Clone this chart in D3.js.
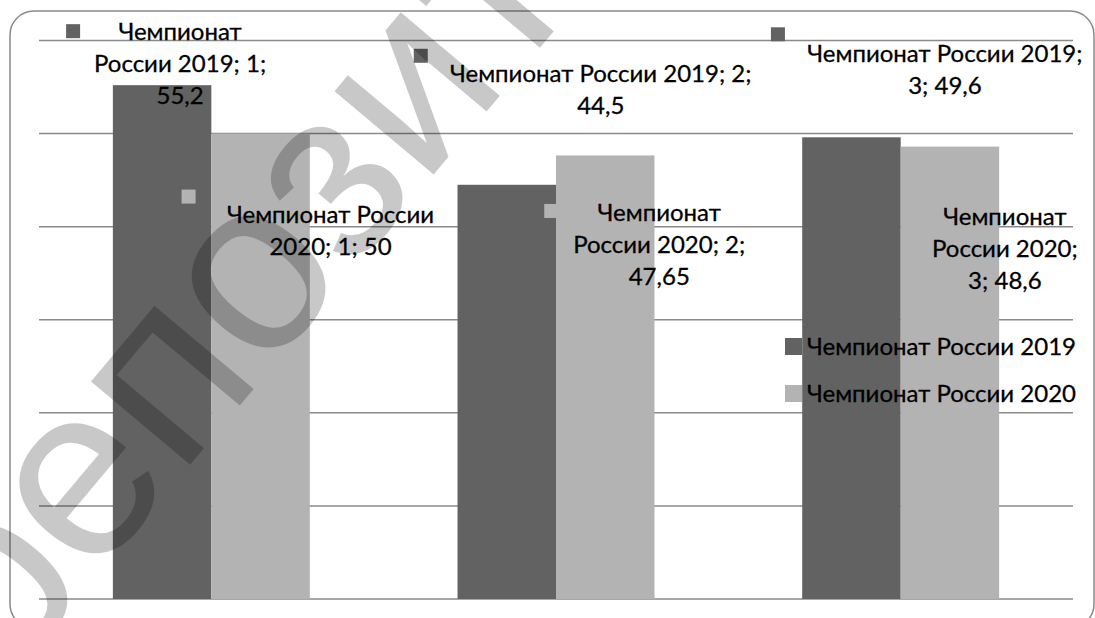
<!DOCTYPE html>
<html>
<head>
<meta charset="utf-8">
<title>Чемпионат России</title>
<script src="https://d3js.org/d3.v7.min.js"></script>
<style>
body { margin: 0; background: #fff; }
text { font-family: Lato, "Noto Sans", sans-serif; }
.lbl { stroke: #000; stroke-width: 0.3; }
</style>
</head>
<body>
<div id="chart"></div>
<script>
// data
var categories = ["1", "2", "3"];
var seriesNames = ["Чемпионат России 2019", "Чемпионат России 2020"];
var values2019 = [55.2, 44.5, 49.6];
var values2020 = [50, 47.65, 48.6];
var yTicks = [0, 10, 20, 30, 40, 50, 60];

var width = 1095, height = 618;
var colors = ["#626262", "#b3b3b3"];

var svg = d3.select("#chart").append("svg")
    .attr("width", width).attr("height", height);

// outer chart frame
svg.append("rect")
    .attr("x", 10).attr("y", 11)
    .attr("width", 1084).attr("height", 617)
    .attr("rx", 24).attr("ry", 24)
    .attr("fill", "#fff")
    .attr("stroke", "#8a8a8a").attr("stroke-width", 1.5);

var x0 = d3.scaleBand().domain(categories).range([39, 1073]).padding(0);
var x1 = d3.scaleBand().domain(seriesNames).range([0, x0.bandwidth()])
    .paddingInner(0).paddingOuter(0.75);
var y = d3.scaleLinear().domain([0, 60]).range([599, 40.5]);

// gridlines
svg.append("g").selectAll("line")
  .data(yTicks)
  .enter().append("line")
    .attr("x1", 39).attr("x2", 1073)
    .attr("y1", function(d) { return y(d); })
    .attr("y2", function(d) { return y(d); })
    .attr("stroke", "#8a8a8a").attr("stroke-width", 1.5);

var rows = [];
categories.forEach(function(c, i) {
  rows.push({cat: c, series: seriesNames[0], s: 0, value: values2019[i]});
  rows.push({cat: c, series: seriesNames[1], s: 1, value: values2020[i]});
});

// bars
svg.append("g").selectAll("rect")
  .data(rows)
  .enter().append("rect")
    .attr("x", function(d) { return x0(d.cat) + x1(d.series); })
    .attr("y", function(d) { return y(d.value); })
    .attr("width", x1.bandwidth())
    .attr("height", function(d) { return y(0) - y(d.value); })
    .attr("fill", function(d) { return colors[d.s]; });

// data labels: line breaks and offsets from the bar top, as placed in the original
var labelLayout = [
  {lines: ["Чемпионат", "России 2019; 1;", "55,2"], dx: 18, dy: -45, kx: -114, ky: -16},
  {lines: ["Чемпионат России", "2020; 1; 50"], dx: 70, dy: 89, kx: -149, ky: -33},
  {lines: ["Чемпионат России 2019; 2;", "44,5"], dx: 94, dy: -103, kx: -187, ky: -33},
  {lines: ["Чемпионат", "России 2020; 2;", "47,65"], dx: 54, dy: 65.5, kx: -115, ky: -17},
  {lines: ["Чемпионат России 2019;", "3; 49,6"], dx: 93.5, dy: -75, kx: -174, ky: -35},
  {lines: ["Чемпионат", "России 2020;", "3; 48,6"], dx: 55, dy: 78, kx: -100, ky: -33}
];
var lineH = 32, fs = 24;

var labels = svg.append("g").selectAll("g")
  .data(rows)
  .enter().append("g")
    .attr("transform", function(d, i) {
      var cx = x0(d.cat) + x1(d.series) + x1.bandwidth() / 2 + labelLayout[i].dx;
      var cy = y(d.value) + labelLayout[i].dy;
      return "translate(" + cx + "," + cy + ")";
    });

labels.append("rect")
    .attr("x", function(d, i) { return labelLayout[i].kx; })
    .attr("y", function(d, i) { return labelLayout[i].ky; })
    .attr("width", 14).attr("height", 14)
    .attr("fill", function(d) { return colors[d.s]; });

labels.each(function(d, i) {
  var t = d3.select(this).append("text")
      .attr("class", "lbl")
      .attr("text-anchor", "middle")
      .attr("font-size", fs)
      .attr("fill", "#000");
  labelLayout[i].lines.forEach(function(l, j) {
    t.append("tspan").attr("x", 0).attr("y", j * lineH).text(l);
  });
});

// legend
var legend = svg.append("g").selectAll("g")
  .data(seriesNames)
  .enter().append("g")
    .attr("transform", function(d, i) { return "translate(785," + (338 + i * 47) + ")"; });
legend.append("rect")
    .attr("width", 17).attr("height", 17)
    .attr("fill", function(d, i) { return colors[i]; });
legend.append("text")
    .attr("class", "lbl")
    .attr("x", 22).attr("y", 17)
    .attr("font-size", fs)
    .attr("fill", "#000")
    .text(function(d) { return d; });

// watermark, rotated; letters 1..5 ("е","п","о","з","и") fitted to where they sit in the original
var wmSize = 245, wmAngle = -50;
var wmTargets = [[89, 490], [175, 386], [255, 288], [337, 183], [418, 95]];
var wm = svg.append("text")
    .style("font-family", "'Liberation Sans', Arial, sans-serif")
    .attr("font-size", wmSize)
    .attr("fill", "#000")
    .attr("fill-opacity", 0.215)
    .text("репозиторий");

var node = wm.node(), a = wmAngle * Math.PI / 180;
var pts = wmTargets.map(function(q, k) {
  var e = node.getExtentOfChar(k + 1);
  var px = e.x + e.width / 2, py = -0.26 * wmSize;
  return [px * Math.cos(a) - py * Math.sin(a), px * Math.sin(a) + py * Math.cos(a)];
});
var pmx = d3.mean(pts, function(p) { return p[0]; }), pmy = d3.mean(pts, function(p) { return p[1]; });
var qmx = d3.mean(wmTargets, function(q) { return q[0]; }), qmy = d3.mean(wmTargets, function(q) { return q[1]; });
var num = d3.sum(pts, function(p, k) { return (p[0] - pmx) * (wmTargets[k][0] - qmx) + (p[1] - pmy) * (wmTargets[k][1] - qmy); });
var den = d3.sum(pts, function(p) { return (p[0] - pmx) * (p[0] - pmx) + (p[1] - pmy) * (p[1] - pmy); });
var sc = num / den;
wm.attr("transform", "translate(" + (qmx - sc * pmx) + "," + (qmy - sc * pmy) + ") rotate(" + wmAngle + ") scale(" + sc + ")");
</script>
</body>
</html>
